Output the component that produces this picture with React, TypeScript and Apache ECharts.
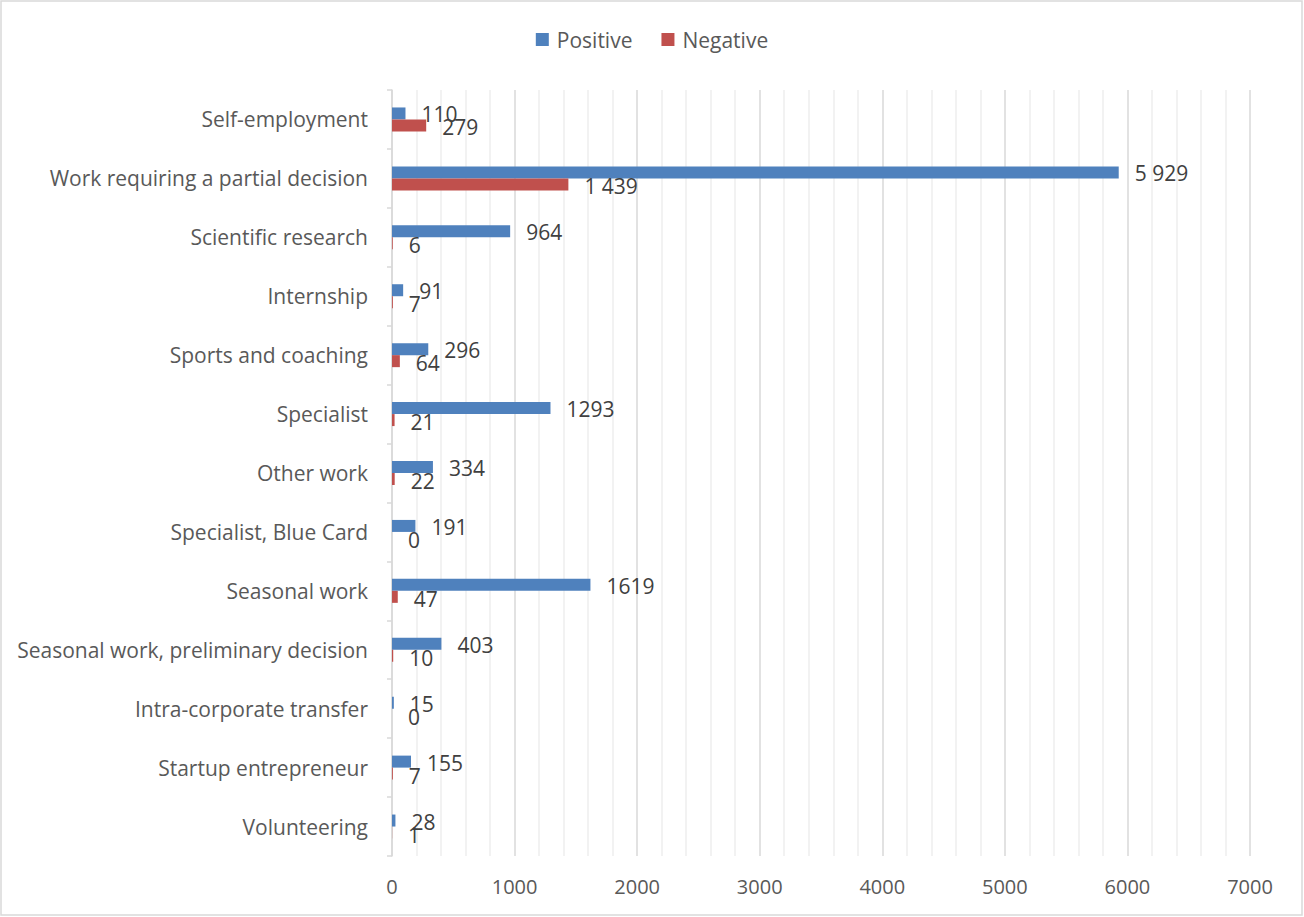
import React, { useEffect, useRef } from "react";
import * as echarts from "echarts";

const categories = [
  "Self-employment",
  "Work requiring a partial decision",
  "Scientific research",
  "Internship",
  "Sports and coaching",
  "Specialist",
  "Other work",
  "Specialist, Blue Card",
  "Seasonal work",
  "Seasonal work, preliminary decision",
  "Intra-corporate transfer",
  "Startup entrepreneur",
  "Volunteering",
];
const positiveValues = [110, 5929, 964, 91, 296, 1293, 334, 191, 1619, 403, 15, 155, 28];
const negativeValues = [279, 1439, 6, 7, 64, 21, 22, 0, 47, 10, 0, 7, 1];
// rows whose labels are printed with a space as thousands separator
const spacedRows = ["Work requiring a partial decision"];
const xTicks = { min: 0, max: 7000, interval: 1000 };

const FONT = "Open Sans";

function fmt(p: any) {
  const v = p.value as number;
  if (spacedRows.includes(p.name)) {
    return String(v).replace(/\B(?=(\d{3})+(?!\d))/g, " ");
  }
  return String(v);
}

export default function App() {
  const ref = useRef<HTMLDivElement>(null);
  useEffect(() => {
    if (!ref.current) return;
    const chart = echarts.init(ref.current, undefined, { renderer: "svg" });
    chart.setOption({
      animation: false,
      backgroundColor: "#ffffff",
      textStyle: { fontFamily: FONT },
      graphic: [
        {
          type: "rect",
          shape: { x: 1, y: 1, width: 1301, height: 914 },
          style: { fill: "none", stroke: "#d9d9d9", lineWidth: 1.5 },
          silent: true,
        },
      ],
      legend: {
        top: 24,
        left: "center",
        itemWidth: 13,
        itemHeight: 13,
        itemGap: 29,
        icon: "rect",
        textStyle: { fontFamily: FONT, fontSize: 21, color: "#595959", padding: [0, 0, 0, 3] },
        data: ["Positive", "Negative"],
      },
      grid: { left: 392, right: 54, top: 90, bottom: 61, containLabel: false },
      xAxis: {
        type: "value",
        min: xTicks.min,
        max: xTicks.max,
        interval: xTicks.interval,
        axisLine: { show: false },
        axisTick: { show: false },
        axisLabel: {
          fontFamily: FONT,
          fontSize: 20,
          color: "#595959",
          margin: 20,
          formatter: (v: number) => String(v),
        },
        splitLine: { show: true, lineStyle: { color: "#d9d9d9", width: 1.5 } },
        minorTick: { show: false, splitNumber: 5 },
        minorSplitLine: { show: true, lineStyle: { color: "#eeeeee", width: 1.5 } },
      },
      yAxis: {
        type: "category",
        inverse: true,
        data: categories,
        axisLine: { show: true, lineStyle: { color: "#d9d9d9", width: 1.5 } },
        axisTick: { show: true, length: 5, lineStyle: { color: "#d9d9d9", width: 1.5 } },
        axisLabel: { fontFamily: FONT, fontSize: 21, color: "#595959", margin: 24 },
      },
      series: [
        {
          name: "Positive",
          type: "bar",
          data: positiveValues,
          barWidth: 12,
          barGap: "0%",
          itemStyle: { color: "#4f81bd" },
          label: {
            show: true,
            position: "right",
            distance: 16,
            offset: [0, 1],
            formatter: fmt,
            fontFamily: FONT,
            fontSize: 21,
            color: "#404040",
          },
        },
        {
          name: "Negative",
          type: "bar",
          data: negativeValues,
          barWidth: 12,
          barGap: "0%",
          itemStyle: { color: "#c0504d" },
          label: {
            show: true,
            position: "right",
            distance: 16,
            offset: [0, 2],
            formatter: fmt,
            fontFamily: FONT,
            fontSize: 21,
            color: "#404040",
          },
        },
      ],
    });
    return () => chart.dispose();
  }, []);
  return (
    <div
      ref={ref}
      style={{ position: "fixed", left: 0, top: 0, width: 1304, height: 917 }}
    />
  );
}
